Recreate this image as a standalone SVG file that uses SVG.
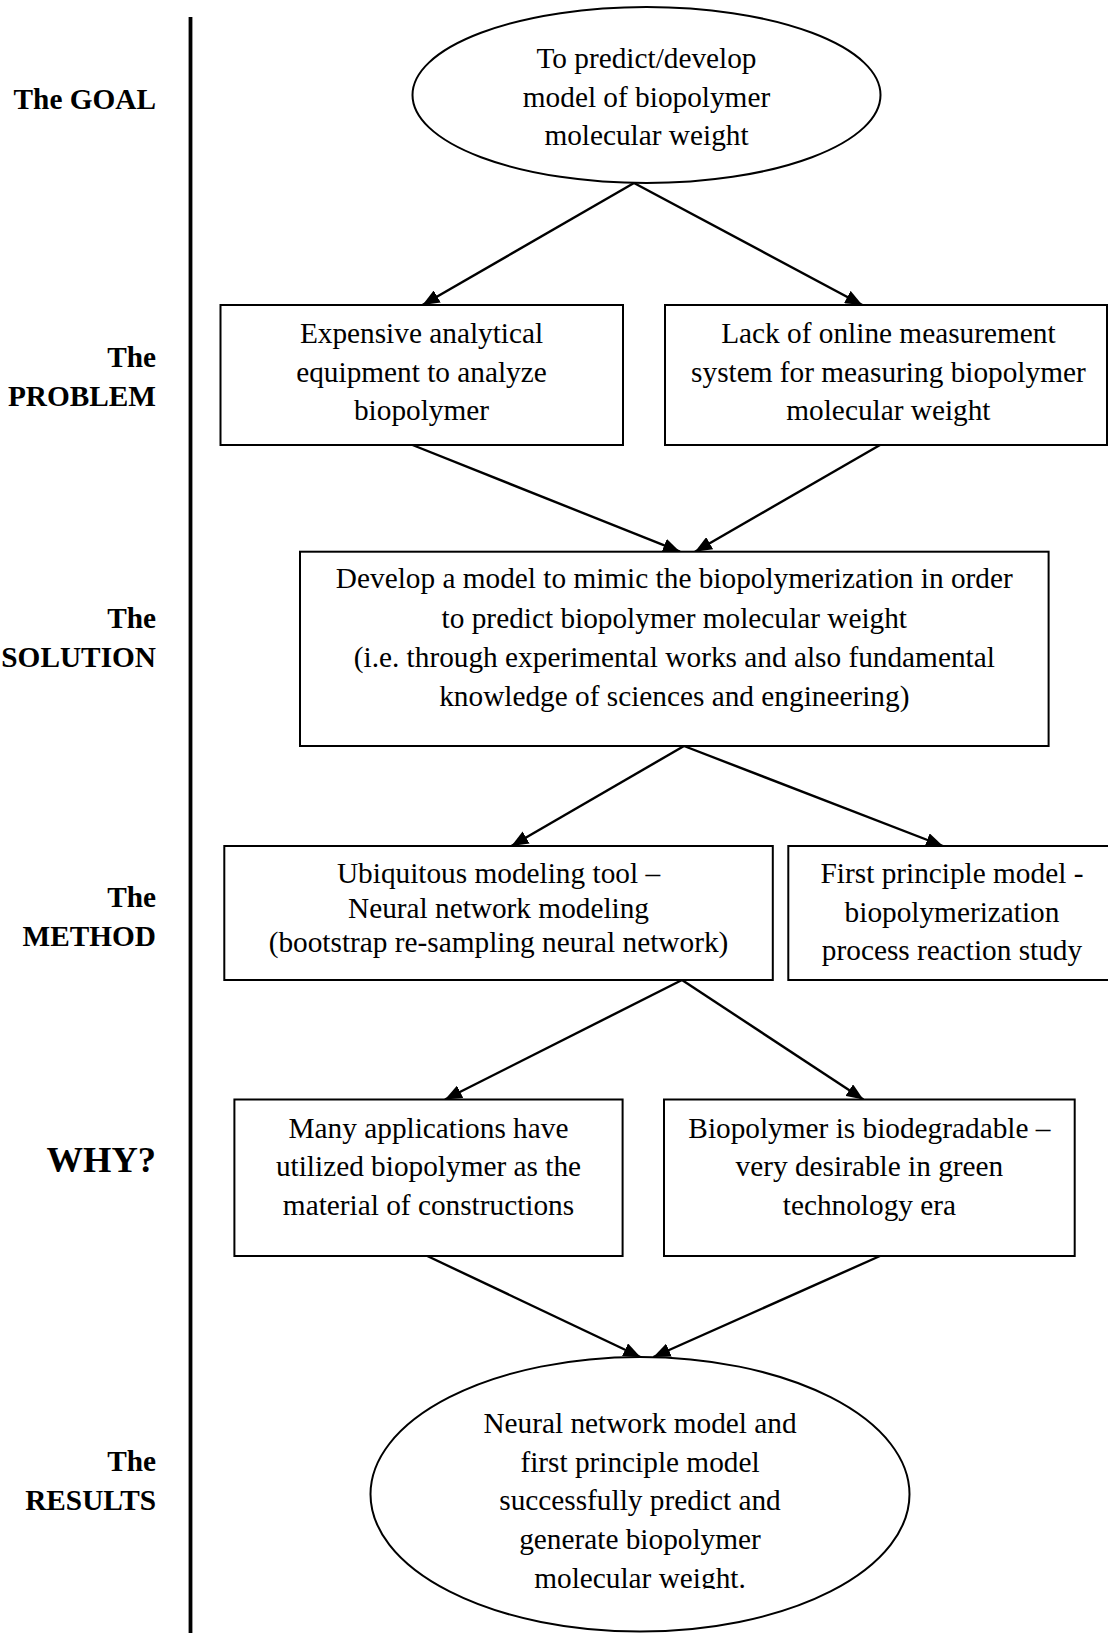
<svg xmlns="http://www.w3.org/2000/svg" width="1108" height="1633" viewBox="0 0 1108 1633">
<style>
  .lbl{font-family:"Liberation Serif","Times New Roman",serif;font-weight:bold;font-size:29.3px;fill:#000;text-anchor:end}
  .txt{font-family:"Liberation Serif","Times New Roman",serif;font-size:29.3px;fill:#000;text-anchor:middle}
  .shape{fill:#fff;stroke:#000;stroke-width:2}
  .conn{stroke:#000;stroke-width:2.4;fill:none;marker-end:url(#arr)}
</style>
<defs>
  <marker id="arr" markerUnits="userSpaceOnUse" markerWidth="17" markerHeight="14" viewBox="0 0 17 14" refX="17" refY="7" orient="auto">
    <path d="M0,0 L17,7 L0,14 z" fill="#000"/>
  </marker>
  <clipPath id="resClip"><rect x="360" y="1350" width="560" height="239"/></clipPath>
</defs>
<rect x="0" y="0" width="1108" height="1633" fill="#fff"/>

<g id="timeline">
  <line x1="190.5" y1="17" x2="190.5" y2="1633" stroke="#000" stroke-width="3.8"/>
</g>

<g id="labels">
  <text class="lbl" x="156" y="108.5">The GOAL</text>
  <text class="lbl" x="156" y="366.7">The</text>
  <text class="lbl" x="156" y="405.5">PROBLEM</text>
  <text class="lbl" x="156" y="628">The</text>
  <text class="lbl" x="156" y="667">SOLUTION</text>
  <text class="lbl" x="156" y="907">The</text>
  <text class="lbl" x="156" y="945.5">METHOD</text>
  <text class="lbl" x="156" y="1171.5" style="font-size:36.5px">WHY?</text>
  <text class="lbl" x="156" y="1471">The</text>
  <text class="lbl" x="156" y="1510">RESULTS</text>
</g>

<g id="connectors">
  <line class="conn" x1="634" y1="183" x2="422.5" y2="305"/>
  <line class="conn" x1="634" y1="183" x2="862.3" y2="305"/>
  <line class="conn" x1="412.5" y1="445" x2="680" y2="551.7"/>
  <line class="conn" x1="880" y1="445" x2="695" y2="551.7"/>
  <line class="conn" x1="684" y1="746" x2="511.4" y2="846"/>
  <line class="conn" x1="684" y1="746" x2="943" y2="846"/>
  <line class="conn" x1="682" y1="980" x2="445" y2="1099.5"/>
  <line class="conn" x1="682" y1="980" x2="863.4" y2="1099.5"/>
  <line class="conn" x1="427.3" y1="1256" x2="640.4" y2="1357"/>
  <line class="conn" x1="880" y1="1256" x2="653.4" y2="1357"/>
</g>

<g id="goal">
  <ellipse class="shape" cx="646.5" cy="95" rx="234" ry="88"/>
  <text class="txt" x="646.5" y="68.3">To predict/develop</text>
  <text class="txt" x="646.5" y="106.7">model of biopolymer</text>
  <text class="txt" x="646.5" y="145">molecular weight</text>
</g>

<g id="problem1">
  <rect class="shape" x="220.5" y="305" width="402.5" height="140"/>
  <text class="txt" x="421.5" y="343.3">Expensive analytical</text>
  <text class="txt" x="421.5" y="381.7">equipment to analyze</text>
  <text class="txt" x="421.5" y="420">biopolymer</text>
</g>

<g id="problem2">
  <rect class="shape" x="665" y="305" width="442" height="140"/>
  <text class="txt" x="888.4" y="343.3">Lack of online measurement</text>
  <text class="txt" x="888.4" y="381.7">system for measuring biopolymer</text>
  <text class="txt" x="888.4" y="420">molecular weight</text>
</g>

<g id="solution">
  <rect class="shape" x="300" y="551.7" width="748.6" height="194.3"/>
  <text class="txt" x="674.3" y="587.5">Develop a model to mimic the biopolymerization in order</text>
  <text class="txt" x="674.3" y="627.5">to predict biopolymer molecular weight</text>
  <text class="txt" x="674.3" y="666.8">(i.e. through experimental works and also fundamental</text>
  <text class="txt" x="674.3" y="706">knowledge of sciences and engineering)</text>
</g>

<g id="method1">
  <rect class="shape" x="224.3" y="846" width="548.5" height="134"/>
  <text class="txt" x="498.5" y="883.3">Ubiquitous modeling tool –</text>
  <text class="txt" x="498.5" y="917.7">Neural network modeling</text>
  <text class="txt" x="498.5" y="951.7">(bootstrap re-sampling neural network)</text>
</g>

<g id="method2">
  <rect class="shape" x="788.3" y="846" width="327" height="134"/>
  <text class="txt" x="952" y="883.3">First principle model -</text>
  <text class="txt" x="952" y="921.7">biopolymerization</text>
  <text class="txt" x="952" y="960">process reaction study</text>
</g>

<g id="why1">
  <rect class="shape" x="234.4" y="1099.5" width="388.2" height="156.5"/>
  <text class="txt" x="428.5" y="1137.5">Many applications have</text>
  <text class="txt" x="428.5" y="1176">utilized biopolymer as the</text>
  <text class="txt" x="428.5" y="1214.5">material of constructions</text>
</g>

<g id="why2">
  <rect class="shape" x="664" y="1099.5" width="410.7" height="156.5"/>
  <text class="txt" x="869.4" y="1137.5">Biopolymer is biodegradable –</text>
  <text class="txt" x="869.4" y="1176">very desirable in green</text>
  <text class="txt" x="869.4" y="1214.5">technology era</text>
</g>

<g id="results">
  <ellipse class="shape" cx="640" cy="1494.3" rx="269.5" ry="137.3"/>
  <g clip-path="url(#resClip)">
    <text class="txt" x="640" y="1433">Neural network model and</text>
    <text class="txt" x="640" y="1471.5">first principle model</text>
    <text class="txt" x="640" y="1510">successfully predict and</text>
    <text class="txt" x="640" y="1549">generate biopolymer</text>
    <text class="txt" x="640" y="1587.5">molecular weight.</text>
  </g>
</g>
</svg>
